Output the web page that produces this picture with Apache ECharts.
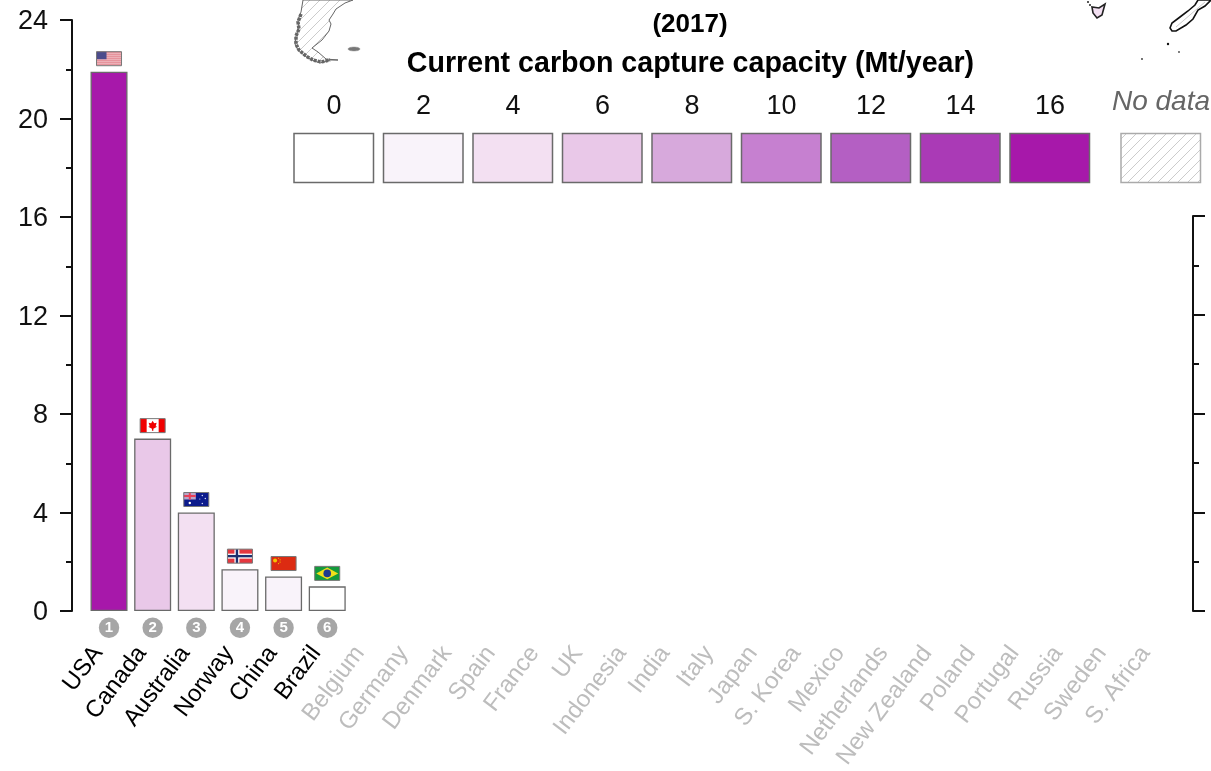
<!DOCTYPE html>
<html><head><meta charset="utf-8">
<style>html,body{margin:0;padding:0;background:#fff}#c{width:1211px;height:771px}</style>
<script src="https://cdn.jsdelivr.net/npm/echarts@6/dist/echarts.min.js"></script>
</head><body><div id="c"></div>
<script>
const categories = ['USA','Canada','Australia','Norway','China','Brazil','Belgium','Germany','Denmark','Spain','France','UK','Indonesia','India','Italy','Japan','S. Korea','Mexico','Netherlands','New Zealand','Poland','Portugal','Russia','Sweden','S. Africa'];
const capacity = [21.9, 7.0, 4.0, 1.7, 1.4, 1.0];
const barColors = ['#a718aa','#e9c8e8','#f3e0f2','#f9f3fa','#f9f3fa','#ffffff'];
const flags = ['us','ca','au','no','cn','br'];
const ranks = [1,2,3,4,5,6];
const leftTicks = [0,4,8,12,16,20,24];
const legendValues = ['0','2','4','6','8','10','12','14','16'];
const legendColors = ['#ffffff','#f9f3fa','#f3e0f2','#e9c8e8','#d7a9dc','#c680d0','#b45fc3','#aa3ab6','#a718aa'];
const FONT = '"Liberation Sans", Arial, sans-serif';

function hatch(color){
  const s=10, c=document.createElement('canvas'); c.width=s; c.height=s;
  const g=c.getContext('2d'); g.strokeStyle=color; g.lineWidth=1;
  g.beginPath(); g.moveTo(-1,1); g.lineTo(1,-1); g.moveTo(0,s); g.lineTo(s,0); g.moveTo(s-1,s+1); g.lineTo(s+1,s-1); g.stroke();
  return {image:c,repeat:'repeat'};
}
const hatchFill = hatch('#cccccc');

function r(x,y,w,h,fill){return {type:'rect',shape:{x:x,y:y,width:w,height:h},style:{fill:fill}};}
function d(x,y,rad,fill){return {type:'circle',shape:{cx:x,cy:y,r:rad},style:{fill:fill}};}
function flagShapes(code){
  const W=25,H=14,x0=-12.5,k=[];
  if(code==='us'){
    k.push(r(x0,0,W,H,'#f0c4c9'));
    for(let i=0;i<7;i++)k.push(r(x0,i*2,W,1,'#e27f8b'));
    k.push(r(x0,0,10,7.5,'#4c4c8c'));
  }else if(code==='ca'){
    k.push(r(x0,0,W,H,'#ffffff'),r(x0,0,6.5,H,'#f00000'),r(x0+18.5,0,6.5,H,'#f00000'));
    k.push({type:'polygon',shape:{points:[[0,2],[1.5,4.5],[4,4],[3,7.5],[4.5,8],[0.7,10],[0.7,12],[-0.7,12],[-0.7,10],[-4.5,8],[-3,7.5],[-4,4],[-1.5,4.5]]},style:{fill:'#f00000'}});
  }else if(code==='au'){
    k.push(r(x0,0,W,H,'#0c1b8c'),r(x0,0,12,7,'#b9a6c8'),r(x0+5,0,2,7,'#e8405a'),r(x0,2.5,12,2,'#e8405a'));
    k.push(d(-6.5,10.5,1.2,'#fff'),d(6,3,0.7,'#dfe3ff'),d(9,6,0.7,'#dfe3ff'),d(3.5,6.5,0.6,'#dfe3ff'),d(6,11,0.7,'#dfe3ff'));
  }else if(code==='no'){
    k.push(r(x0,0,W,H,'#e5373f'),r(x0+7,0,5,H,'#ffffff'),r(x0,4.5,W,5,'#ffffff'),r(x0+8.3,0,2.4,H,'#1d2f6f'),r(x0,5.8,W,2.4,'#1d2f6f'));
  }else if(code==='cn'){
    k.push(r(x0,0,W,H,'#dc2b12'),d(-8.5,4,2,'#f5c400'),d(-5,1.7,0.6,'#f5c400'),d(-3.5,3.3,0.6,'#f5c400'),d(-3.5,5.5,0.6,'#f5c400'),d(-5,7,0.6,'#f5c400'));
  }else{
    k.push(r(x0,0,W,H,'#149a3c'));
    k.push({type:'polygon',shape:{points:[[0,1.2],[11,7],[0,12.8],[-11,7]]},style:{fill:'#f1e01a'}});
    k.push(d(0,7,3.8,'#1d3a8f'));
  }
  k.push({type:'rect',shape:{x:x0,y:0,width:W,height:H},style:{fill:'none',stroke:'#777',lineWidth:1}});
  return k;
}

const legendItems = [];
legendValues.forEach(function(v,i){
  const x=294+i*89.5;
  legendItems.push({type:'rect',shape:{x:x,y:133.5,width:79.5,height:49},style:{fill:legendColors[i],stroke:'#6a6a6a',lineWidth:1.5}});
  legendItems.push({type:'text',x:x+40,y:107,style:{text:v,fill:'#111',font:'27px '+FONT,textAlign:'center',textVerticalAlign:'middle'}});
});
legendItems.push({type:'rect',shape:{x:1121,y:133.5,width:79.5,height:49},style:{fill:hatchFill,stroke:'#aaa',lineWidth:1.5}});
legendItems.push({type:'text',x:1210,y:102,style:{text:'No data',fill:'#666',font:'italic 28px '+FONT,textAlign:'right',textVerticalAlign:'middle'}});
legendItems.push({type:'text',x:690,y:25,style:{text:'(2017)',fill:'#000',font:'bold 26px '+FONT,textAlign:'center',textVerticalAlign:'middle'}});
legendItems.push({type:'text',x:690.5,y:64,style:{text:'Current carbon capture capacity (Mt/year)',fill:'#000',font:'bold 28.6px '+FONT,textAlign:'center',textVerticalAlign:'middle'}});

const mapItems = [
  {type:'polygon',shape:{points:[[303,0],[301,12],[298,20],[299,28],[296,36],[295,44],[298,50],[305,56],[312,60],[320,63],[330,60],[338,60],[326,59],[318,52],[312,48],[322,40],[329,31],[331,24],[329,20],[333,14],[336,9],[345,3],[353,0]]},style:{fill:hatchFill,stroke:'#666',lineWidth:1}},
  {type:'polyline',shape:{points:[[301,14],[298,22],[299,29],[296,36],[296,44],[299,50],[306,56],[313,60],[321,62],[330,60]]},style:{fill:'none',stroke:'#666',lineWidth:3.5,lineDash:[3,1]}},
  {type:'ellipse',shape:{cx:354,cy:49,rx:6,ry:2},style:{fill:'#777',stroke:'#999',lineWidth:0.5}},
  {type:'polygon',shape:{points:[[1092,7],[1093,13],[1097,18],[1102,15],[1105,4],[1099,8]]},style:{fill:'#f3e0f2',stroke:'#222',lineWidth:1.6}},
  {type:'circle',shape:{cx:1088,cy:2,r:1},style:{fill:'#222'}},
  {type:'circle',shape:{cx:1090,cy:5,r:1},style:{fill:'#222'}},
  {type:'polygon',shape:{points:[[1170,28],[1172,23],[1180,17],[1188,11],[1195,5],[1198,0],[1211,0],[1205,6],[1198,10],[1193,19],[1186,25],[1176,31],[1172,31]]},style:{fill:'#fff',stroke:'#111',lineWidth:1.6}},
  {type:'line',shape:{x1:1176,y1:27,x2:1205,y2:2},style:{stroke:'#ccc',lineWidth:1}},
  {type:'circle',shape:{cx:1168,cy:44,r:1.2},style:{fill:'#111'}},
  {type:'circle',shape:{cx:1179,cy:52,r:0.9},style:{fill:'#444'}},
  {type:'circle',shape:{cx:1142,cy:59,r:0.9},style:{fill:'#333'}}
];

const axisStyle = {lineStyle:{color:'#111',width:2}};
const chart = echarts.init(document.getElementById('c'),null,{renderer:'canvas'});
chart.setOption({
  animation:false,
  backgroundColor:'#fff',
  textStyle:{fontFamily:FONT},
  grid:[
    {left:87.2,top:20,width:1091,height:591,containLabel:false,outerBoundsMode:'none'},
    {left:76.2,top:216,width:1091,height:395,containLabel:false,outerBoundsMode:'none'}
  ],
  xAxis:[
    {type:'category',gridIndex:0,data:categories,axisLine:{show:false},axisTick:{show:false},axisLabel:{show:false}},
    {type:'category',gridIndex:1,data:categories,axisLine:{show:false},axisTick:{show:false},
      axisLabel:{interval:0,rotate:53,margin:38,fontSize:24,fontFamily:FONT,
        color:function(v,i){return i<capacity.length?'#000':'#bdbdbd';}}}
  ],
  yAxis:[
    {type:'value',gridIndex:0,min:0,max:leftTicks[leftTicks.length-1],interval:4,position:'left',offset:15.2,
      splitLine:{show:false},axisLine:Object.assign({show:true},axisStyle),
      axisTick:Object.assign({show:true,length:12},axisStyle),
      minorTick:Object.assign({show:true,splitNumber:2,length:6},axisStyle),
      axisLabel:{margin:24,formatter:'{a|{value}}',rich:{a:{fontSize:27,color:'#111',fontFamily:FONT,padding:[4,0,0,0]}}}},
    {type:'value',gridIndex:1,min:0,max:16,interval:4,position:'right',offset:25.8,
      splitLine:{show:false},axisLine:Object.assign({show:true},axisStyle),
      axisTick:Object.assign({show:true,length:12},axisStyle),
      minorTick:Object.assign({show:true,splitNumber:2,length:6},axisStyle),
      axisLabel:{show:false}}
  ],
  series:[
    {type:'bar',xAxisIndex:0,yAxisIndex:0,barWidth:37,
      data:capacity.map(function(v,i){return {value:v,itemStyle:{color:barColors[i],borderColor:'#6a6a6a',borderWidth:1.3}};})},
    {type:'custom',xAxisIndex:0,yAxisIndex:0,clip:false,silent:true,z:5,
      data:capacity.map(function(v,i){return [i,v];}),
      encode:{x:0,y:1},
      renderItem:function(params,api){
        const p=api.coord([api.value(0),api.value(1)]);
        return {type:'group',x:p[0],y:p[1]-20,children:flagShapes(flags[params.dataIndex])};
      }},
    {type:'custom',xAxisIndex:0,yAxisIndex:0,clip:false,silent:true,z:5,
      data:ranks.map(function(v,i){return [i,0,v];}),
      encode:{x:0,y:1},
      renderItem:function(params,api){
        const p=api.coord([api.value(0),0]);
        return {type:'group',x:p[0],y:p[1]+16.7,children:[
          {type:'circle',shape:{cx:0,cy:0,r:10.2},style:{fill:'#a6a6a6'}},
          {type:'text',x:0,y:0,style:{text:String(api.value(2)),fill:'#fff',font:'bold 15px '+FONT,textAlign:'center',textVerticalAlign:'middle'}}
        ]};
      }}
  ],
  graphic:{elements:mapItems.concat(legendItems)}
});
</script></body></html>
